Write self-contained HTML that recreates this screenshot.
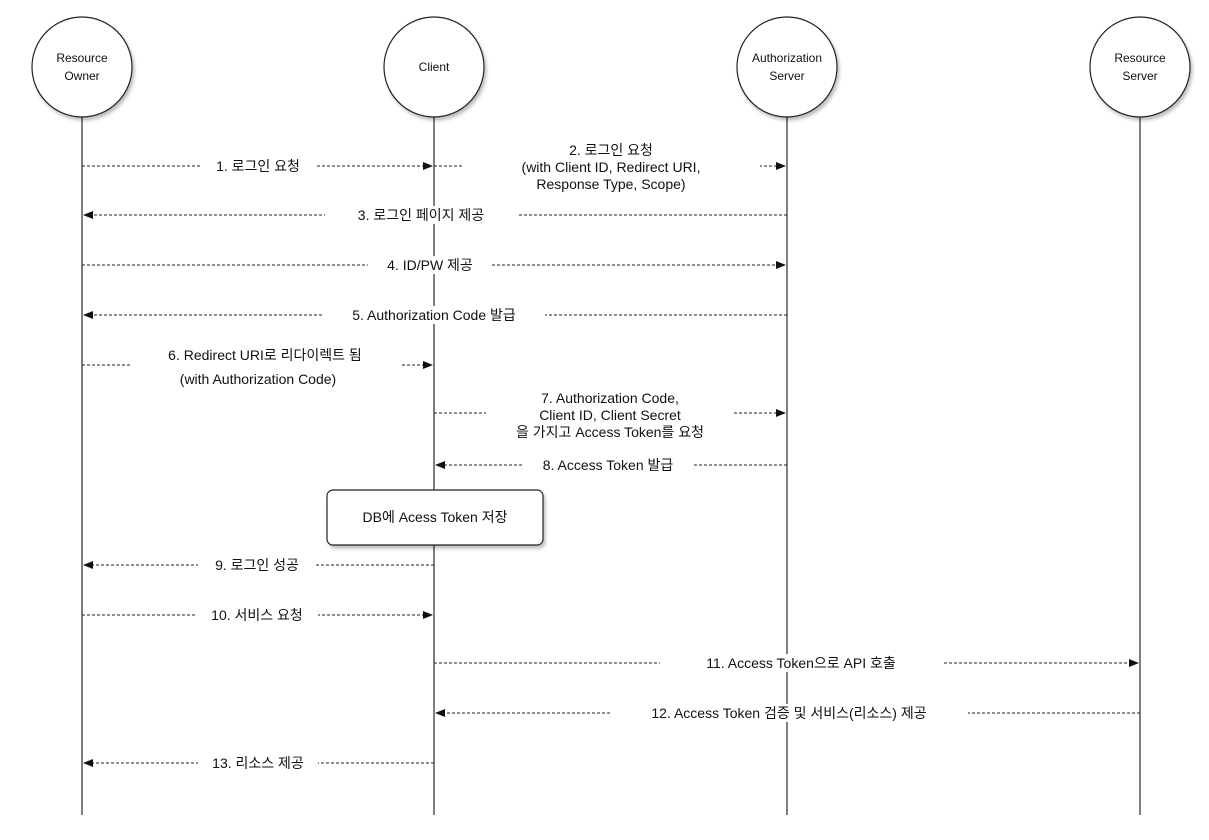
<!DOCTYPE html>
<html><head><meta charset="utf-8"><style>
html,body{margin:0;padding:0;background:#fff;}
svg text{font-family:"Liberation Sans","Noto Sans CJK KR",sans-serif;font-size:14px;fill:#111;}
</style></head><body>
<svg width="1209" height="835" viewBox="0 0 1209 835" xmlns="http://www.w3.org/2000/svg">
<defs>
<marker id="a" markerWidth="10" markerHeight="8" refX="9" refY="4" orient="auto" markerUnits="userSpaceOnUse"><path d="M0,0 L10,4 L0,8 Z" fill="#111"/></marker>
<filter id="sh" x="-20%" y="-20%" width="150%" height="150%"><feDropShadow dx="2" dy="3" stdDeviation="1.5" flood-color="#000" flood-opacity="0.25"/></filter>
</defs>
<g stroke="#555" stroke-width="1.5">
<line x1="82" y1="117" x2="82" y2="815"/>
<line x1="434" y1="117" x2="434" y2="815"/>
<line x1="787" y1="117" x2="787" y2="815"/>
<line x1="1140" y1="117" x2="1140" y2="815"/>
</g>
<g fill="#fff" stroke="#222" stroke-width="1.2" filter="url(#sh)">
<circle cx="82" cy="67" r="50"/><circle cx="434" cy="67" r="50"/>
<circle cx="787" cy="67" r="50"/><circle cx="1140" cy="67" r="50"/>
</g>
<g text-anchor="middle" style="font-size:12px">
<text x="82" y="62" style="font-size:12px">Resource</text><text x="82" y="80" style="font-size:12px">Owner</text>
<text x="434" y="71" style="font-size:12px">Client</text>
<text x="787" y="62" style="font-size:12px">Authorization</text><text x="787" y="80" style="font-size:12px">Server</text>
<text x="1140" y="62" style="font-size:12px">Resource</text><text x="1140" y="80" style="font-size:12px">Server</text>
</g>
<g stroke="#222" stroke-width="1" stroke-dasharray="3,2" fill="none" marker-end="url(#a)">
<line x1="82" y1="166" x2="432" y2="166"/>
<line x1="434" y1="166" x2="785" y2="166"/>
<line x1="787" y1="215" x2="84" y2="215"/>
<line x1="82" y1="265" x2="785" y2="265"/>
<line x1="787" y1="315" x2="84" y2="315"/>
<line x1="82" y1="365" x2="432" y2="365"/>
<line x1="434" y1="413" x2="785" y2="413"/>
<line x1="787" y1="465" x2="436" y2="465"/>
<line x1="434" y1="565" x2="84" y2="565"/>
<line x1="82" y1="615" x2="432" y2="615"/>
<line x1="434" y1="663" x2="1138" y2="663"/>
<line x1="1140" y1="713" x2="436" y2="713"/>
<line x1="434" y1="763" x2="84" y2="763"/>
</g>
<g fill="#fff">
<rect x="200" y="157" width="115" height="18"/>
<rect x="462" y="141" width="298" height="52"/>
<rect x="325" y="206" width="192" height="18"/>
<rect x="368" y="256" width="124" height="18"/>
<rect x="323" y="306" width="222" height="18"/>
<rect x="130" y="343" width="272" height="44"/>
<rect x="486" y="389" width="248" height="52"/>
<rect x="522" y="456" width="172" height="18"/>
<rect x="198" y="556" width="118" height="18"/>
<rect x="196" y="606" width="122" height="18"/>
<rect x="660" y="654" width="282" height="18"/>
<rect x="610" y="704" width="358" height="18"/>
<rect x="198" y="754" width="120" height="18"/>
</g>
<g text-anchor="middle">
<text x="258" y="171">1. 로그인 요청</text>
<text x="611" y="155">2. 로그인 요청</text>
<text x="611" y="172">(with Client ID, Redirect URI,</text>
<text x="611" y="189">Response Type, Scope)</text>
<text x="421" y="220">3. 로그인 페이지 제공</text>
<text x="430" y="270">4. ID/PW 제공</text>
<text x="434" y="320">5. Authorization Code 발급</text>
<text x="265" y="360">6. Redirect URI로 리다이렉트 됨</text>
<text x="258" y="384">(with Authorization Code)</text>
<text x="610" y="403">7. Authorization Code,</text>
<text x="610" y="420">Client ID, Client Secret</text>
<text x="610" y="437">을 가지고 Access Token를 요청</text>
<text x="608" y="470">8. Access Token 발급</text>
<text x="257" y="570">9. 로그인 성공</text>
<text x="257" y="620">10. 서비스 요청</text>
<text x="801" y="668">11. Access Token으로 API 호출</text>
<text x="789" y="718">12. Access Token 검증 및 서비스(리소스) 제공</text>
<text x="258" y="768">13. 리소스 제공</text>
</g>
<rect x="327" y="490" width="216" height="55" rx="6" fill="#fff" stroke="#222" stroke-width="1.2" filter="url(#sh)"/>
<text x="435" y="522" text-anchor="middle">DB에 Acess Token 저장</text>
</svg>
</body></html>
